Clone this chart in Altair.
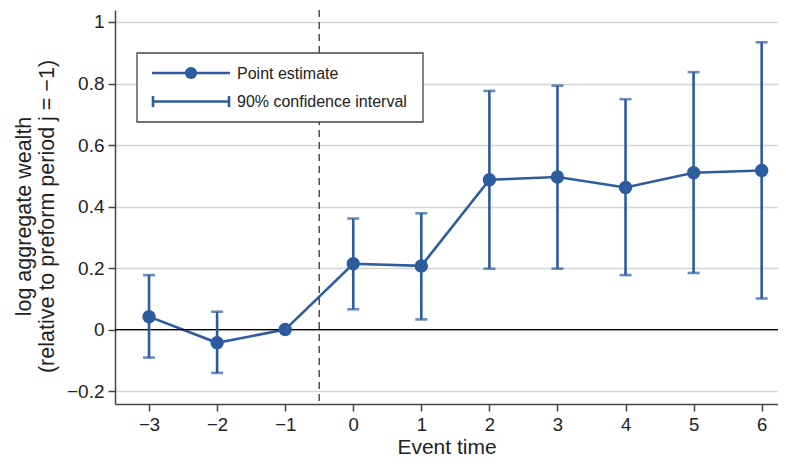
import altair as alt
import pandas as pd

event_time = [-3, -2, -1, 0, 1, 2, 3, 4, 5, 6]
estimate = [0.042, -0.043, 0.0, 0.214, 0.207, 0.487, 0.496, 0.462, 0.510, 0.517]
ci_low = [-0.091, -0.141, None, 0.066, 0.033, 0.198, 0.198, 0.177, 0.184, 0.101]
ci_high = [0.177, 0.058, None, 0.361, 0.378, 0.776, 0.793, 0.749, 0.837, 0.934]
y_ticks = [-0.2, 0, 0.2, 0.4, 0.6, 0.8, 1.0]
x_ticks = [-3, -2, -1, 0, 1, 2, 3, 4, 5, 6]
reform_line = [-0.5]
legend_labels = ["Point estimate", "90% confidence interval"]

BLUE = "#2d5c9e"
FONT = "Liberation Sans"

df = pd.DataFrame({"t": event_time, "est": estimate, "lo": ci_low, "hi": ci_high})
ci = df.dropna()
one = pd.DataFrame({"k": [0]})

xs = alt.Scale(domain=[-3.5, 6.24], nice=False, zero=False)
ys = alt.Scale(domain=[-0.242, 1.039], nice=False, zero=False)

x_axis = alt.Axis(values=x_ticks, format="d", grid=False, title="Event time",
                  titleFontSize=21, titleFontWeight="normal", titleY=32,
                  labelFontSize=18.5, labelPadding=4)
y_axis = alt.Axis(values=y_ticks, format=".1~f", grid=True,
                  title=["log aggregate wealth", "(relative to preform period j = −1)"],
                  titleFontSize=21.5, titleFontWeight="normal", titleX=-80, titleY=206,
                  titleLineHeight=23, labelFontSize=19, labelPadding=4)

base = alt.Chart(df)

line = base.mark_line(color=BLUE, strokeWidth=2.6).encode(
    x=alt.X("t:Q", scale=xs, axis=x_axis),
    y=alt.Y("est:Q", scale=ys, axis=y_axis),
)
pts = base.mark_circle(color=BLUE, size=180, opacity=1).encode(
    x=alt.X("t:Q", scale=xs), y=alt.Y("est:Q", scale=ys))

bars = alt.Chart(ci).mark_rule(color=BLUE, strokeWidth=2.6).encode(
    x=alt.X("t:Q", scale=xs), y=alt.Y("lo:Q", scale=ys), y2="hi:Q")
cap_lo = alt.Chart(ci).mark_tick(color=BLUE, orient="horizontal", size=12, thickness=2.6).encode(
    x=alt.X("t:Q", scale=xs), y=alt.Y("lo:Q", scale=ys))
cap_hi = alt.Chart(ci).mark_tick(color=BLUE, orient="horizontal", size=12, thickness=2.6).encode(
    x=alt.X("t:Q", scale=xs), y=alt.Y("hi:Q", scale=ys))

zero = alt.Chart(pd.DataFrame({"y": [0]})).mark_rule(color="black", strokeWidth=1.3).encode(
    y=alt.Y("y:Q", scale=ys))
dash = alt.Chart(pd.DataFrame({"x": reform_line})).mark_rule(
    color="#333333", strokeWidth=1.3, strokeDash=[7, 5]).encode(x=alt.X("x:Q", scale=xs))

# legend
box = alt.Chart(one).mark_rect(fill="white", stroke="#444444", strokeWidth=1.3).encode(
    x=alt.value(22), x2=alt.value(308), y=alt.value(43), y2=alt.value(112))
lg_line = alt.Chart(one).mark_rule(color=BLUE, strokeWidth=2.6).encode(
    x=alt.value(37), x2=alt.value(115), y=alt.value(63))
lg_pt = alt.Chart(one).mark_circle(color=BLUE, size=150, opacity=1).encode(
    x=alt.value(76), y=alt.value(63))
lg_ci = alt.Chart(one).mark_rule(color=BLUE, strokeWidth=2.6).encode(
    x=alt.value(37), x2=alt.value(115), y=alt.value(91.5))
lg_cap1 = alt.Chart(one).mark_rule(color=BLUE, strokeWidth=2.6).encode(
    x=alt.value(38), y=alt.value(86), y2=alt.value(97))
lg_cap2 = alt.Chart(one).mark_rule(color=BLUE, strokeWidth=2.6).encode(
    x=alt.value(114), y=alt.value(86), y2=alt.value(97))
lg_txt1 = alt.Chart(one).mark_text(
    align="left", baseline="middle", fontSize=16, font=FONT, color="#222222",
    text=legend_labels[0]).encode(x=alt.value(122), y=alt.value(64))
lg_txt2 = alt.Chart(one).mark_text(
    align="left", baseline="middle", fontSize=16, font=FONT, color="#222222",
    text=legend_labels[1]).encode(x=alt.value(122), y=alt.value(92))

chart = alt.layer(
    line, zero, dash, box, lg_line, lg_pt, lg_ci, lg_cap1, lg_cap2, lg_txt1, lg_txt2,
    bars, cap_lo, cap_hi, pts,
).properties(
    width=663, height=394,
    autosize=alt.AutoSizeParams(type="none"),
    padding={"left": 107, "top": 2, "right": 0, "bottom": 55},
).configure_view(stroke=None).configure_axis(
    labelFont=FONT, titleFont=FONT, labelColor="#222222", titleColor="#222222",
    domainColor="#444444", domainWidth=1.5, tickColor="#444444", tickWidth=1.5, tickSize=7,
    gridColor="#d4d4d4", gridWidth=1.5,
)

chart.save("out.html", embed_options={"renderer": "svg", "actions": False})
